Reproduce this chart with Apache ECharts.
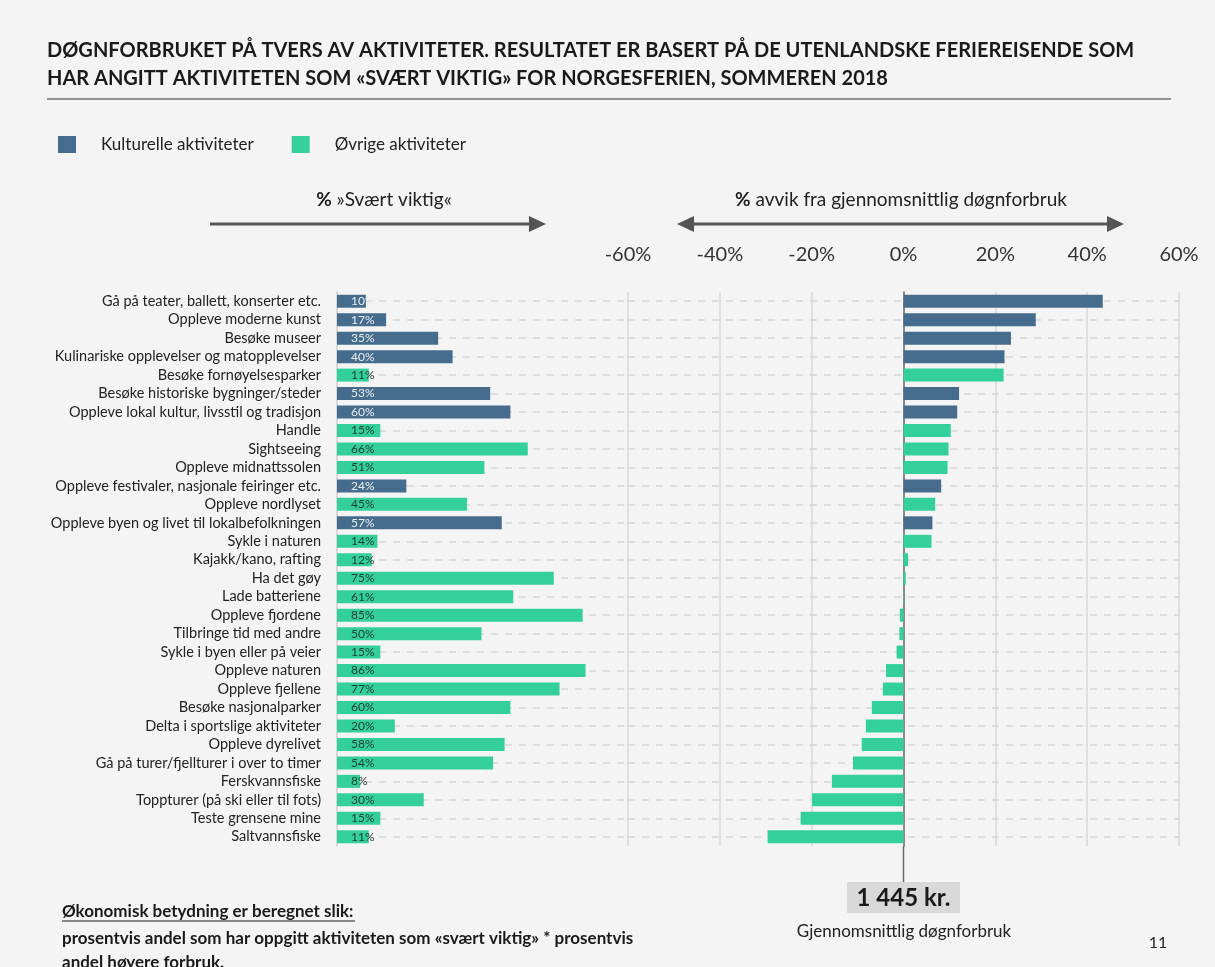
<!DOCTYPE html>
<html>
<head>
<meta charset="utf-8">
<script src="https://cdn.jsdelivr.net/npm/echarts@6/dist/echarts.min.js"></script>
<style>
html,body{margin:0;padding:0;background:#f4f4f4;}
#chart{width:1215px;height:967px;}
</style>
</head>
<body>
<div id="chart"></div>
<script>
// ---- DATA ----
const categories = [
  "Gå på teater, ballett, konserter etc.",
  "Oppleve moderne kunst",
  "Besøke museer",
  "Kulinariske opplevelser og matopplevelser",
  "Besøke fornøyelsesparker",
  "Besøke historiske bygninger/steder",
  "Oppleve lokal kultur, livsstil og tradisjon",
  "Handle",
  "Sightseeing",
  "Oppleve midnattssolen",
  "Oppleve festivaler, nasjonale feiringer etc.",
  "Oppleve nordlyset",
  "Oppleve byen og livet til lokalbefolkningen",
  "Sykle i naturen",
  "Kajakk/kano, rafting",
  "Ha det gøy",
  "Lade batteriene",
  "Oppleve fjordene",
  "Tilbringe tid med andre",
  "Sykle i byen eller på veier",
  "Oppleve naturen",
  "Oppleve fjellene",
  "Besøke nasjonalparker",
  "Delta i sportslige aktiviteter",
  "Oppleve dyrelivet",
  "Gå på turer/fjellturer i over to timer",
  "Ferskvannsfiske",
  "Toppturer (på ski eller til fots)",
  "Teste grensene mine",
  "Saltvannsfiske"
];
// K = Kulturelle aktiviteter, O = Øvrige aktiviteter
const activityType = ["K","K","K","K","O","K","K","O","O","O","K","O","K","O","O","O","O","O","O","O","O","O","O","O","O","O","O","O","O","O"];
const svaertViktig = [10,17,35,40,11,53,60,15,66,51,24,45,57,14,12,75,61,85,50,15,86,77,60,20,58,54,8,30,15,11];
const avvik = [43.4,28.8,23.4,22.0,21.8,12.1,11.7,10.3,9.8,9.6,8.2,6.9,6.3,6.1,1.0,0.5,-0.1,-0.8,-0.9,-1.5,-3.8,-4.5,-6.9,-8.2,-9.1,-11.0,-15.6,-19.9,-22.4,-29.6];
const avvikTicks = [-60,-40,-20,0,20,40,60];
const seriesNames = {K: "Kulturelle aktiviteter", O: "Øvrige aktiviteter"};
const colors = {K: "#466c8d", O: "#34d09b"};
const labelColors = {K: "#e9eef3", O: "#1e3a31"};

// ---- CHART ----
const FONT = "Lato, 'Open Sans', sans-serif";
const chart = echarts.init(document.getElementById('chart'));

function pick(values, t) {
  return values.map((v, i) => activityType[i] === t ? v : null);
}
const dashLines = categories.map(c => ({yAxis: c}));

function barSeries(gridIdx, values, t, withLabel, withMark) {
  const s = {
    name: seriesNames[t],
    type: 'bar',
    xAxisIndex: gridIdx,
    yAxisIndex: gridIdx,
    data: pick(values, t),
    barWidth: 13,
    barGap: '-100%',
    z: 10,
    itemStyle: {color: colors[t]},
    emphasis: {disabled: true},
    label: withLabel ? {
      show: true,
      position: 'insideLeft',
      distance: 14,
      formatter: '{c}%',
      fontSize: 12,
      fontFamily: FONT,
      color: labelColors[t]
    } : {show: false}
  };
  if (withMark) {
    s.markLine = {
      silent: true,
      z: 1,
      symbol: ['none', 'none'],
      label: {show: false},
      lineStyle: {color: '#d6d6d6', type: [7, 7], width: 1.5},
      data: dashLines
    };
  }
  return s;
}

const option = {
  backgroundColor: '#f4f4f4',
  animation: false,
  legend: {
    left: 53,
    top: 131,
    itemWidth: 18,
    itemHeight: 17,
    itemGap: 38,
    icon: 'rect',
    selectedMode: false,
    data: [seriesNames.K, seriesNames.O],
    textStyle: {fontSize: 17, fontFamily: FONT, color: '#222', padding: [0, 0, 0, 20]}
  },
  grid: [
    {left: 337, width: 289, top: 292, height: 554},
    {left: 628, width: 551, top: 292, height: 554}
  ],
  xAxis: [
    {gridIndex: 0, type: 'value', min: 0, max: 100, show: false},
    {gridIndex: 1, type: 'value', min: -60, max: 60, interval: 20, position: 'top',
      axisLine: {show: false}, axisTick: {show: false},
      axisLabel: {formatter: '{value}%', fontSize: 20, color: '#333', fontFamily: FONT, margin: 27,
        customValues: avvikTicks},
      splitLine: {show: true, lineStyle: {color: '#d8d8d8', width: 1.5}}
    }
  ],
  yAxis: [
    {gridIndex: 0, type: 'category', data: categories, inverse: true,
      axisLine: {show: true, lineStyle: {color: '#cfcfcf', width: 1.5}},
      axisTick: {show: false},
      axisLabel: {interval: 0, fontSize: 14.5, color: '#222', fontFamily: FONT, margin: 16}
    },
    {gridIndex: 1, type: 'category', data: categories, inverse: true,
      axisLine: {show: true, onZero: true, lineStyle: {color: '#6b6b6b', width: 1.5}},
      axisTick: {show: false},
      axisLabel: {show: false}
    }
  ],
  series: [
    barSeries(0, svaertViktig, 'K', true, true),
    barSeries(0, svaertViktig, 'O', true, false),
    barSeries(1, avvik, 'K', false, true),
    barSeries(1, avvik, 'O', false, false)
  ],
  graphic: [
    {type: 'text', left: 47, top: 41, style: {text: 'DØGNFORBRUKET PÅ TVERS AV AKTIVITETER. RESULTATET ER BASERT PÅ DE UTENLANDSKE FERIEREISENDE SOM', fontSize: 20, fontWeight: 'bold', fontFamily: FONT, fill: '#1a1a1a'}},
    {type: 'text', left: 47, top: 69, style: {text: 'HAR ANGITT AKTIVITETEN SOM «SVÆRT VIKTIG» FOR NORGESFERIEN, SOMMEREN 2018', fontSize: 20, fontWeight: 'bold', fontFamily: FONT, fill: '#1a1a1a'}},
    {type: 'line', shape: {x1: 47, y1: 99, x2: 1171, y2: 99}, style: {stroke: '#333', lineWidth: 1.2}},
    // left header
    {type: 'text', x: 384, y: 200, style: {text: '{b|%} »Svært viktig«', align: 'center', verticalAlign: 'middle', fontSize: 19, fontFamily: FONT, fill: '#222', rich: {b: {fontWeight: 'bold', fontSize: 19, fontFamily: FONT, fill: '#222'}}}},
    {type: 'line', shape: {x1: 210, y1: 224, x2: 532, y2: 224}, style: {stroke: '#555', lineWidth: 3}},
    {type: 'polygon', shape: {points: [[529, 216], [546, 224], [529, 232]]}, style: {fill: '#555'}},
    // right header
    {type: 'text', x: 901, y: 200, style: {text: '{b|%} avvik fra gjennomsnittlig døgnforbruk', align: 'center', verticalAlign: 'middle', fontSize: 19, fontFamily: FONT, fill: '#222', rich: {b: {fontWeight: 'bold', fontSize: 19, fontFamily: FONT, fill: '#222'}}}},
    {type: 'line', shape: {x1: 690, y1: 224, x2: 1110, y2: 224}, style: {stroke: '#555', lineWidth: 3}},
    {type: 'polygon', shape: {points: [[694, 216], [677, 224], [694, 232]]}, style: {fill: '#555'}},
    {type: 'polygon', shape: {points: [[1107, 216], [1124, 224], [1107, 232]]}, style: {fill: '#555'}},
    // zero line extension & average box
    {type: 'line', shape: {x1: 903.5, y1: 846, x2: 903.5, y2: 882}, style: {stroke: '#6b6b6b', lineWidth: 1.5}},
    {type: 'rect', shape: {x: 847, y: 882, width: 113, height: 31}, style: {fill: '#d9d9d9'}},
    {type: 'text', x: 903.5, y: 898, style: {text: '1 445 kr.', align: 'center', verticalAlign: 'middle', fontSize: 24, fontWeight: 'bold', fontFamily: FONT, fill: '#1a1a1a'}},
    {type: 'text', x: 904, y: 932, style: {text: 'Gjennomsnittlig døgnforbruk', align: 'center', verticalAlign: 'middle', fontSize: 17, fontFamily: FONT, fill: '#222'}},
    // footnote
    {type: 'text', x: 62, y: 912, style: {text: 'Økonomisk betydning er beregnet slik:', verticalAlign: 'middle', fontSize: 17, fontWeight: 'bold', fontFamily: FONT, fill: '#1a1a1a'}},
    {type: 'line', shape: {x1: 62, y1: 921, x2: 355, y2: 921}, style: {stroke: '#1a1a1a', lineWidth: 1}},
    {type: 'text', x: 62, y: 939, style: {text: 'prosentvis andel som har oppgitt aktiviteten som «svært viktig» * prosentvis', verticalAlign: 'middle', fontSize: 17, fontWeight: 'bold', fontFamily: FONT, fill: '#1a1a1a'}},
    {type: 'text', x: 62, y: 963, style: {text: 'andel høyere forbruk.', verticalAlign: 'middle', fontSize: 17, fontWeight: 'bold', fontFamily: FONT, fill: '#1a1a1a'}},
    {type: 'text', x: 1158, y: 943, style: {text: '11', align: 'center', verticalAlign: 'middle', fontSize: 16, fontFamily: FONT, fill: '#222'}}
  ]
};
chart.setOption(option);
</script>
</body>
</html>
